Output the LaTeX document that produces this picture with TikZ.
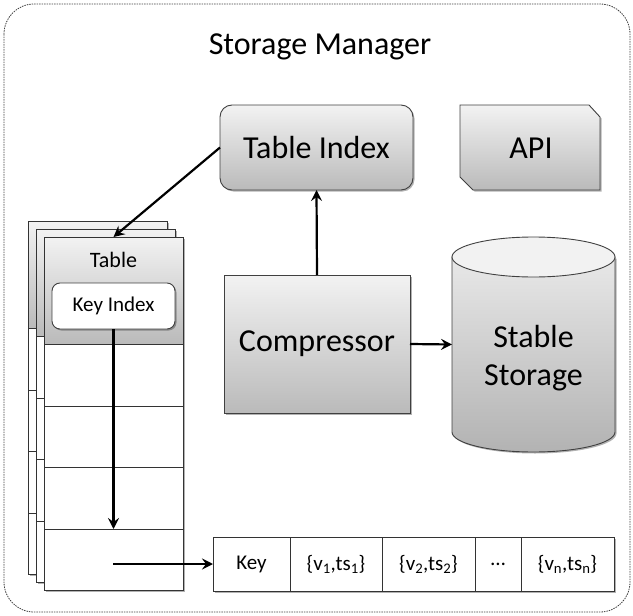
\documentclass[tikz,border=0pt]{standalone}
\usepackage{fontspec}
\setmainfont{Carlito}
\usetikzlibrary{arrows.meta,shadows}

\begin{document}
\begin{tikzpicture}[x=1pt,y=-1pt,
  every node/.style={inner sep=0pt, outer sep=0pt},
  frame/.style={draw=black!75, line width=0.8pt, dash pattern=on 1.5pt off 1pt, rounded corners=30pt},
  grad/.style={top color=black!5, bottom color=black!27},
  shade/.style={drop shadow={shadow xshift=1.5pt, shadow yshift=-1.5pt, opacity=0.3, fill=black}},
  big/.style={font=\fontsize{32}{38}\selectfont},
  block/.style={grad, draw=black!75, line width=0.9pt, shade},
  flow/.style={line width=2.2pt, -{Stealth[length=11pt,width=11pt,inset=4pt]}},
  cell/.style={draw=black!80, line width=0.8pt, fill=white, minimum height=54pt,
    font=\fontsize{21}{25}\selectfont, shade},
  sheetline/.style={draw=black!80, line width=0.8pt},
]
\useasboundingbox (0,0) rectangle (633,616);

% outer boundary
\draw[frame] (4,4) rectangle (630,612);
\node[big] (title) at (320,47) {Storage Manager};

% table index
\node[block, big, rounded corners=12pt, minimum width=193pt, minimum height=85pt]
  (tidx) at (316.5,147.5) {Table Index};

% API with two snipped corners
\path[block] (460,105) -- (589,105) -- (600,117) -- (600,190) -- (473,190) -- (460,177) -- cycle;
\node[big] (api) at (531,148) {API};

% compressor
\node[block, big, minimum width=186pt, minimum height=138pt] (comp) at (317,344) {Compressor};

% stable storage cylinder
\node[minimum width=163pt, minimum height=215pt] (store) at (533.5,344.5) {};
\path[top color=black!9, bottom color=black!30, draw=black!75, line width=0.9pt, shade]
  (452,257) -- (452,432) arc (180:0:81.5 and 20) -- (615,257) -- cycle;
\path[fill=black!5, draw=black!75, line width=0.9pt] (533.5,257) ellipse (81.5 and 20);
\node[big, align=center] (stlabel) at (533.5,358) {Stable\\Storage};

% stack of tables
\foreach \o in {16,8,0}{
  \path[fill=white, shade] ({44-\o},{237-\o}) rectangle ({183-\o},{590-\o});
  \path[grad] ({44-\o},{237-\o}) rectangle ({183-\o},{344-\o});
  \draw[sheetline] ({44-\o},{344-\o}) -- ({183-\o},{344-\o})
    ({44-\o},{406-\o}) -- ({183-\o},{406-\o})
    ({44-\o},{467-\o}) -- ({183-\o},{467-\o})
    ({44-\o},{529-\o}) -- ({183-\o},{529-\o});
  \draw[sheetline] ({44-\o},{237-\o}) rectangle ({183-\o},{590-\o});
}
\node[minimum width=139pt, minimum height=353pt] (tbl) at (113.5,413.5) {};
\node[font=\fontsize{22}{26}\selectfont] (tbltitle) at (113.5,260) {Table};
\node[draw=black!75, line width=0.9pt, fill=white, rounded corners=8pt, shade,
  minimum width=123pt, minimum height=46pt, font=\fontsize{21}{25}\selectfont]
  (keyidx) at (113.5,306) {Key Index};

% record row
\node[cell, minimum width=77pt] (key) at (251.5,564) {Key};
\node[cell, minimum width=92pt] (v1) at (336,564) {\{v\textsubscript{1},ts\textsubscript{1}\}};
\node[cell, minimum width=93pt] (v2) at (428.5,564) {\{v\textsubscript{2},ts\textsubscript{2}\}};
\node[cell, minimum width=46pt] (dots) at (498,564) {…};
\node[cell, minimum width=93pt] (vn) at (567.5,564) {\{v\textsubscript{n},ts\textsubscript{n}\}};

% connectors
\coordinate (rowend) at (113.5,529);
\coordinate (rowstart) at (113,564);
\draw[flow] (tidx.west) -- (tbl.north);
\draw[flow] (comp.north) -- (tidx.south);
\draw[flow] (comp.east) -- (store.west);
\draw[flow] (keyidx.south) -- (rowend);
\draw[flow] (rowstart) -- (key.west);
\end{tikzpicture}
\end{document}
